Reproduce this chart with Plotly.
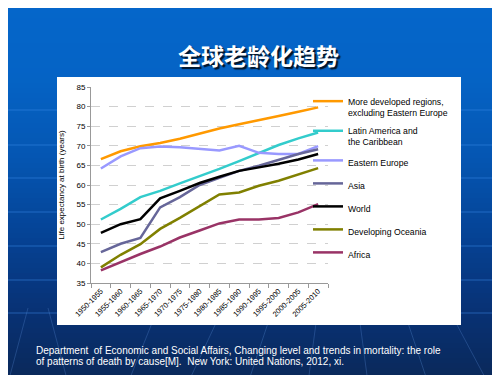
import plotly.graph_objects as go

periods = ["1950-1955", "1955-1960", "1960-1965", "1965-1970", "1970-1975", "1975-1980",
           "1980-1985", "1985-1990", "1990-1995", "1995-2000", "2000-2005", "2005-2010"]

more_developed = [66.6, 68.6, 69.9, 70.7, 71.8, 73.1, 74.4, 75.5, 76.5, 77.6, 78.7, 79.8]
latin_america = [51.2, 53.9, 56.9, 58.5, 60.4, 62.2, 64.1, 66.1, 68.2, 70.2, 71.9, 73.4]
eastern_europe = [64.2, 67.3, 69.4, 69.8, 69.6, 69.2, 68.8, 70.0, 68.2, 67.9, 67.9, 69.9]
asia = [42.9, 45.0, 46.5, 54.3, 56.9, 60.0, 61.8, 63.6, 64.9, 66.5, 67.9, 69.1]
world = [47.8, 50.0, 51.3, 56.6, 58.5, 60.5, 62.1, 63.6, 64.5, 65.4, 66.5, 67.9]
dev_oceania = [39.0, 42.2, 44.9, 48.8, 51.6, 54.5, 57.6, 58.1, 59.8, 61.1, 62.7, 64.3]
africa = [38.2, 40.4, 42.4, 44.3, 46.6, 48.4, 50.2, 51.2, 51.2, 51.6, 53.0, 55.1]

series = [
    ("More developed regions,<br>excluding Eastern Europe", more_developed, "#FF9900"),
    ("Latin America and<br>the Caribbean", latin_america, "#33CCCC"),
    ("Eastern Europe", eastern_europe, "#9999FF"),
    ("Asia", asia, "#666699"),
    ("World", world, "#000000"),
    ("Developing Oceania", dev_oceania, "#808000"),
    ("Africa", africa, "#993366"),
]

title_text = "全球老龄化趋势"
source_line1 = "Department  of Economic and Social Affairs, Changing level and trends in mortality: the role"
source_line2 = "of patterns of death by cause[M].  New York: United Nations, 2012, xi."

W, H = 500, 375
ML, MR, MT, MB = 83, 180, 79, 100
PW, PH = W - ML - MR, H - MT - MB


def px_x(px):
    return (px - ML) / PW


def px_y(py):
    return (H - MB - py) / PH


fig = go.Figure()
for i, (name, vals, col) in enumerate(series):
    fig.add_trace(go.Scatter(x=periods, y=vals, mode="lines", name=name,
                             legendgroup=f"g{i}",
                             line=dict(color=col, width=2.5)))

shapes = []
# background gradient bands
stops = [(0, (5, 102, 202)), (70, (5, 99, 197)), (150, (5, 86, 178)),
         (230, (5, 66, 148)), (300, (8, 50, 118)), (375, (10, 40, 88))]


def col_at(y):
    for (y0, c0), (y1, c1) in zip(stops[:-1], stops[1:]):
        if y0 <= y <= y1:
            t = (y - y0) / (y1 - y0)
            return "rgb(%d,%d,%d)" % tuple(round(a + (b - a) * t) for a, b in zip(c0, c1))
    return "rgb(10,40,88)"


step = 5
for y in range(0, H, step):
    shapes.append(dict(type="rect", xref="paper", yref="paper",
                       x0=px_x(0), x1=px_x(W), y0=px_y(y + step + 0.5), y1=px_y(y),
                       fillcolor=col_at(y + step / 2), line=dict(width=0), layer="below"))
# faint horizontal light lines
for y in [102, 137, 170, 204, 238, 272, 305]:
    shapes.append(dict(type="line", xref="paper", yref="paper",
                       x0=px_x(0), x1=px_x(W), y0=px_y(y), y1=px_y(y),
                       line=dict(color="rgba(60,140,235,0.5)", width=1), layer="below"))
# faint rays at bottom
for (xa, xb) in [(0, 20), (60, 40), (120, 150), (180, 215), (240, 265), (300, 310),
                 (360, 350), (420, 395), (480, 440)]:
    shapes.append(dict(type="line", xref="paper", yref="paper",
                       x0=px_x(xa), x1=px_x(xb), y0=px_y(375), y1=px_y(300),
                       line=dict(color="rgba(80,130,200,0.35)", width=1), layer="below"))
# white chart panel
shapes.append(dict(type="rect", xref="paper", yref="paper",
                   x0=px_x(49), x1=px_x(453), y0=px_y(317), y1=px_y(69),
                   fillcolor="white", line=dict(width=0), layer="below"))

src_font = dict(family="Liberation Sans, Arial, sans-serif", size=10, color="white")

fig.update_layout(
    width=W, height=H,
    margin=dict(l=ML, r=MR, t=MT, b=MB, pad=0),
    paper_bgcolor="rgb(5,100,200)",
    plot_bgcolor="rgba(0,0,0,0)",
    shapes=shapes,
    font=dict(family="Liberation Sans, Arial, sans-serif", size=8, color="black"),
    showlegend=True,
    legend=dict(x=px_x(300), xanchor="left", y=px_y(81), yanchor="top",
                bgcolor="rgba(0,0,0,0)", valign="top", tracegroupgap=4,
                font=dict(size=8.7, family="Liberation Sans, Arial, sans-serif", color="black")),
    annotations=[
        dict(text=title_text, xref="paper", yref="paper", x=px_x(250), y=px_y(47),
             xanchor="center", yanchor="middle", showarrow=False,
             font=dict(family="Noto Sans CJK SC", size=23, color="white", weight="bold",
                       shadow="2px 2px 1px rgba(0,0,0,0.8)")),
        dict(text=source_line1, xref="paper", yref="paper", x=px_x(26), y=px_y(342),
             xanchor="left", yanchor="middle", align="left", showarrow=False, font=src_font),
        dict(text=source_line2, xref="paper", yref="paper", x=px_x(26), y=px_y(353),
             xanchor="left", yanchor="middle", align="left", showarrow=False, font=src_font),
    ],
    xaxis=dict(type="category", tickson="boundaries", ticks="outside", ticklen=4,
               tickcolor="#999999", showline=True, linecolor="#999999", linewidth=1,
               showgrid=False, tickangle=-45, range=[-0.5, 11.5],
               tickfont=dict(size=7.5, color="black")),
    yaxis=dict(range=[35, 85], dtick=5, ticks="outside", ticklen=3, tickcolor="#999999",
               showline=True, linecolor="#999999", linewidth=1,
               showgrid=True, gridcolor="#D0D0D0", griddash="dash", gridwidth=1,
               zeroline=False, tickfont=dict(size=8, color="black"),
               title=dict(text="Life expectancy at birth (years)", standoff=10,
                          font=dict(size=8, color="black"))),
)

fig.write_html("out.html")
